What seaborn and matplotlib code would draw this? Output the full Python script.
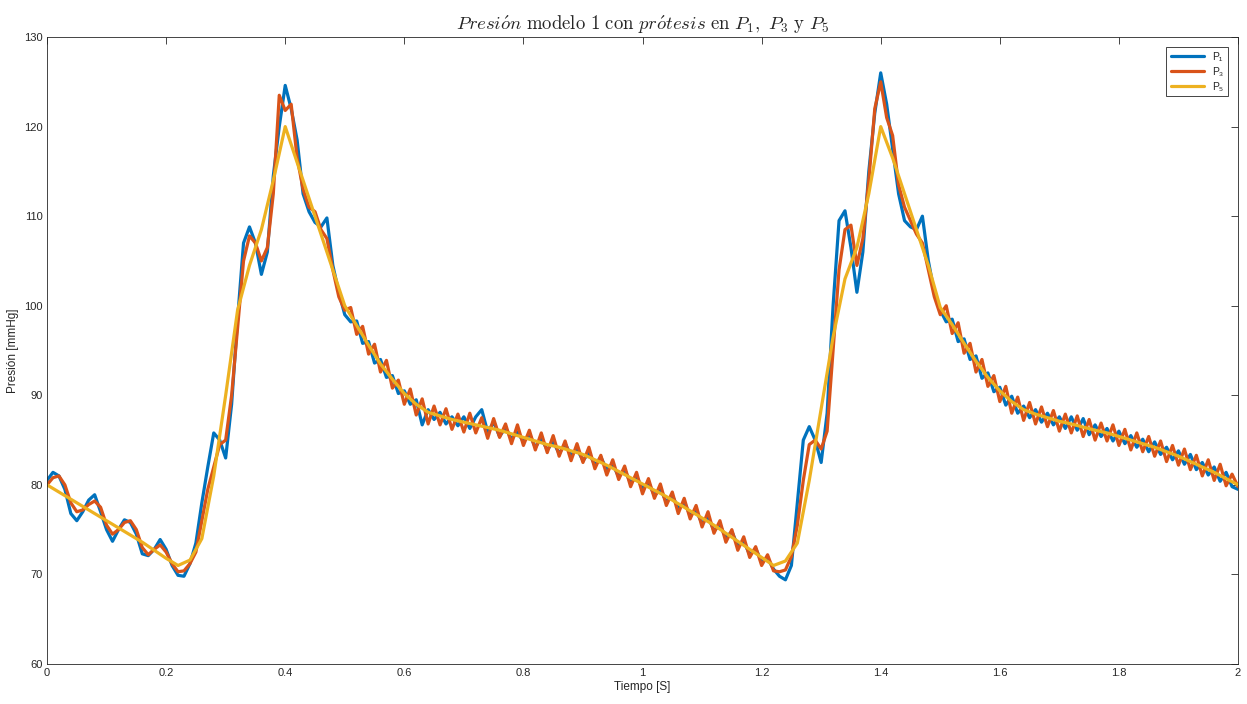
import matplotlib
matplotlib.use("Agg")
import matplotlib.pyplot as plt
import seaborn as sns
import numpy as np

# time grids (s)
t_fine = np.round(np.arange(0, 2.0001, 0.01), 2)
t_smooth = np.round(np.arange(0, 2.0001, 0.02), 2)

# P1 (blue), sampled every 0.01 s
p1 = [
    80.5, 81.4, 81.0, 79.5, 76.8, 76.0, 77.0, 78.3, 78.9, 77.0,
    75.0, 73.7, 75.0, 76.1, 75.8, 74.5, 72.3, 72.1, 72.8, 73.9,
    72.8, 71.0, 69.9, 69.8, 71.2, 73.5, 78.0, 82.0, 85.8, 85.0,
    83.0, 89.0, 98.5, 107.0, 108.8, 107.0, 103.5, 106.0, 114.5, 120.0,
    124.6, 122.0, 118.5, 112.5, 110.5, 109.3, 108.8, 109.8, 104.5, 101.5,
    99.0, 98.2, 98.3, 95.8, 96.0, 93.6, 94.0, 92.0, 92.2, 90.2,
    90.5, 89.0, 89.5, 86.7, 88.4, 87.3, 88.1, 86.8, 87.6, 86.6,
    87.6, 86.3, 87.6, 88.4, 85.9, 87.0, 85.4, 86.4, 85.1, 85.9,
    84.8, 85.7, 84.2, 85.2, 83.9, 84.8, 83.5, 84.6, 83.3, 84.0,
    82.7, 83.6, 82.2, 83.1, 81.7, 82.3, 80.9, 81.7, 80.2, 80.9,
    79.6, 80.3, 78.8, 79.5, 78.1, 78.8, 77.4, 78.1, 76.6, 77.1,
    75.7, 76.4, 74.9, 75.5, 74.1, 74.8, 73.2, 73.7, 72.2, 72.9,
    71.4, 71.8, 70.6, 69.8, 69.4, 71.0, 78.0, 85.0, 86.5, 85.0,
    82.5, 88.0, 100.0, 109.5, 110.6, 106.5, 101.5, 106.0, 115.0, 121.5,
    126.0, 122.5, 117.5, 112.5, 109.5, 108.8, 108.5, 110.0, 105.0, 101.5,
    99.5, 98.2, 98.5, 96.0, 96.3, 94.0, 94.4, 91.9, 92.5, 90.4,
    90.9, 88.9, 89.9, 88.0, 88.8, 87.5, 88.4, 87.0, 88.0, 86.7,
    87.6, 86.3, 87.6, 86.1, 87.4, 85.6, 86.7, 85.4, 86.3, 84.9,
    86.0, 84.6, 85.5, 84.2, 85.1, 83.7, 84.8, 83.4, 84.2, 82.8,
    83.8, 82.3, 83.4, 81.7, 82.5, 81.1, 82.0, 80.4, 81.4, 79.8,
    79.5,
]

# P3 (orange), sampled every 0.01 s
p3 = [
    80.0, 80.8, 81.0, 80.0, 78.0, 77.0, 77.2, 77.8, 78.2, 77.5,
    75.5, 74.5, 75.0, 75.8, 76.0, 75.0, 73.0, 72.2, 72.8, 73.3,
    72.5, 71.2, 70.3, 70.4, 71.2, 72.5, 76.0, 79.5, 82.0, 84.5,
    85.0, 90.0, 97.5, 105.0, 107.8, 107.0, 105.0, 106.5, 112.5, 123.5,
    121.8, 122.5, 116.5, 113.0, 111.0, 110.5, 108.5, 107.5, 104.0, 101.0,
    99.5, 99.8, 96.8, 97.7, 94.6, 95.7, 92.6, 93.9, 90.8, 91.7,
    89.0, 90.7, 87.8, 89.6, 86.8, 88.8, 86.7, 88.5, 86.2, 87.9,
    85.9, 88.0, 85.8, 87.5, 85.2, 87.4, 85.3, 86.8, 84.6, 86.7,
    84.4, 86.1, 83.9, 85.8, 83.6, 85.5, 83.2, 84.9, 82.7, 84.6,
    82.5, 84.2, 81.8, 83.3, 81.1, 82.8, 80.6, 82.1, 79.8, 81.4,
    79.0, 80.7, 78.5, 80.1, 77.7, 79.2, 76.8, 78.5, 76.2, 77.7,
    75.3, 77.0, 74.6, 76.0, 73.6, 75.0, 72.7, 74.2, 71.9, 73.1,
    71.0, 72.2, 70.4, 70.3, 70.5, 72.0, 75.5, 80.5, 84.5, 85.0,
    84.0, 86.0, 95.0, 104.0, 108.5, 109.0, 104.5, 107.5, 114.0, 122.0,
    125.0, 121.0, 119.0, 113.5, 111.0, 109.5, 108.0, 107.0, 104.0, 101.0,
    99.0, 100.0, 96.9, 98.1, 94.7, 95.8, 92.6, 94.0, 91.0, 92.2,
    89.3, 91.0, 88.0, 89.8, 87.2, 89.2, 86.8, 88.7, 86.5, 88.3,
    86.0, 87.9, 85.8, 87.7, 85.4, 87.3, 85.0, 86.9, 84.9, 86.7,
    84.4, 86.2, 83.9, 85.8, 83.7, 85.4, 83.2, 84.9, 82.6, 84.4,
    82.2, 84.0, 81.7, 83.3, 81.0, 82.8, 80.5, 82.3, 79.9, 81.2,
    79.8,
]

# P5 (yellow), smooth, sampled every 0.02 s
p5 = [
    80.0, 79.2, 78.4, 77.6, 76.8, 76.0, 75.2, 74.4, 73.6, 72.7,
    71.8, 71.0, 71.6, 74.0, 81.0, 90.0, 99.5, 104.5, 108.5, 114.0,
    120.0, 116.0, 112.0, 108.0, 104.0, 100.0, 97.8, 95.6, 93.5, 91.8,
    90.2, 89.0, 88.1, 87.7, 87.3, 87.0, 86.7, 86.4, 86.1, 85.7,
    85.3, 84.9, 84.5, 84.2, 83.8, 83.4, 82.8, 82.2, 81.5, 80.8,
    80.1, 79.4, 78.7, 77.9, 77.1, 76.3, 75.5, 74.6, 73.7, 72.8,
    71.9, 71.0, 71.5, 73.5, 80.5, 88.5, 96.5, 103.0, 106.5, 112.5,
    120.0, 116.5, 112.5, 108.5, 104.5, 99.8, 97.9, 95.8, 93.8, 92.0,
    90.5, 89.3, 88.4, 87.9, 87.5, 87.1, 86.8, 86.45, 86.1, 85.8,
    85.4, 85.0, 84.6, 84.2, 83.7, 83.2, 82.6, 82.0, 81.4, 80.7,
    80.0,
]

series_names = ["P\u2081", "P\u2083", "P\u2085"]
series_colors = ["#0072BD", "#D95319", "#EDB120"]

x_ticks = [0, 0.2, 0.4, 0.6, 0.8, 1, 1.2, 1.4, 1.6, 1.8, 2]
x_tick_labels = ["0", "0.2", "0.4", "0.6", "0.8", "1", "1.2", "1.4", "1.6", "1.8", "2"]
y_ticks = [60, 70, 80, 90, 100, 110, 120, 130]

sns.set_style("white")
plt.rcParams["font.family"] = ["Liberation Sans", "DejaVu Sans"]
plt.rcParams["mathtext.fontset"] = "cm"

fig = plt.figure(figsize=(12.47, 7.04), dpi=100)
ax = fig.add_axes([0.0377, 0.0568, 0.9551, 0.8906])

sns.lineplot(x=t_fine, y=p1, ax=ax, color=series_colors[0], lw=2.3, label=series_names[0])
sns.lineplot(x=t_fine, y=p3, ax=ax, color=series_colors[1], lw=2.3, label=series_names[1])
sns.lineplot(x=t_smooth, y=p5, ax=ax, color=series_colors[2], lw=2.3, label=series_names[2])

ax.set_xlim(0, 2)
ax.set_ylim(60, 130)
ax.set_xticks(x_ticks)
ax.set_xticklabels(x_tick_labels)
ax.set_yticks(y_ticks)
ax.tick_params(direction="in", length=5, width=0.6, colors="#262626",
               labelsize=8, top=True, right=True, pad=3)
for s in ax.spines.values():
    s.set_visible(True)
    s.set_color("#262626")
    s.set_linewidth(0.6)

ax.set_xlabel("Tiempo [S]", fontsize=8.5, color="#262626", labelpad=2)
ax.set_ylabel("Presión [mmHg]", fontsize=8.5, color="#262626", labelpad=4)
ax.set_title(r"$\mathit{Presi\acute{o}n}\ \mathrm{modelo\ 1\ con}\ \mathit{pr\acute{o}tesis}\ "
             r"\mathrm{en}\ P_1,\ P_3\ \mathrm{y}\ P_5$", fontsize=13.5, pad=5)

leg = ax.legend(loc="upper right", fontsize=7.5, frameon=True, fancybox=False,
                framealpha=1, edgecolor="#262626", handlelength=3.2,
                borderpad=0.4, labelspacing=0.5, borderaxespad=1.0)
leg.get_frame().set_linewidth(0.6)

fig.savefig("out.png", dpi=100)
